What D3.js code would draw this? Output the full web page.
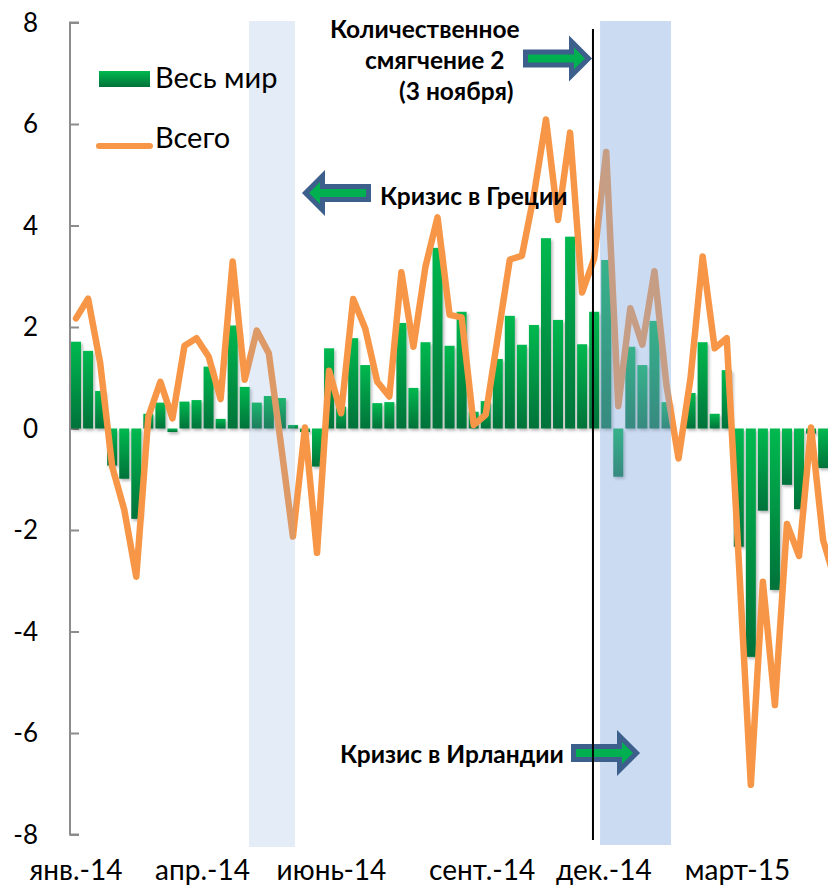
<html>

<head>
    <style>
        body {
            margin: 0;
            background-color: white;
        }

        text {
            font-family: 'Lato', sans-serif;
            fill: black;
        }

        .note {
            font-weight: bold;
            font-size: 24.5px;
        }
    </style>
</head>

<body>
    <svg width="828" height="887"></svg>

    <script src="https://d3js.org/d3.v7.min.js"></script>

    <script>
        // weekly flows, %
        var worldFlows = [1.71, 1.53, 0.74, -0.73, -0.99, -1.78, 0.29, 0.51, -0.07, 0.53,
            0.56, 1.22, 0.19, 2.03, 0.82, 0.51, 0.64, 0.60, 0.07, -0.07,
            -0.75, 1.58, 0.43, 1.78, 1.25, 0.50, 0.52, 2.08, 0.80, 1.70,
            3.56, 1.63, 2.30, 0.33, 0.54, 1.37, 2.22, 1.65, 2.04, 3.75,
            2.14, 3.78, 1.66, 2.30, 3.32, -0.95, 1.61, 1.25, 2.12, 0.52,
            0.00, 0.70, 1.70, 0.29, 1.15, -2.33, -4.50, -1.62, -3.18, -1.11,
            -1.59, -0.10, -0.78]; // Весь мир
        var totalFlows = [2.17, 2.56, 1.30, -0.75, -1.60, -2.92, 0.23, 0.92, 0.20, 1.63,
            1.78, 1.42, 0.58, 3.29, 0.96, 1.93, 1.48, -0.30, -2.13, 0.02,
            -2.45, 1.14, 0.30, 2.55, 1.97, 0.92, 0.63, 3.08, 1.61, 3.19,
            4.16, 2.24, 2.19, 0.07, 0.27, 1.80, 3.33, 3.40, 4.60, 6.09,
            4.11, 5.83, 2.68, 3.35, 5.45, 0.44, 2.37, 1.65, 3.10, 0.85,
            -0.59, 1.00, 3.39, 1.58, 1.78, -2.60, -7.02, -3.02, -5.45, -1.88,
            -2.51, 0.02, -2.20, -3.00]; // Всего
        var seriesNames = ['Весь мир', 'Всего'];
        var yTicks = [-8, -6, -4, -2, 0, 2, 4, 6, 8];
        var monthLabels = ['янв.-14', 'апр.-14', 'июнь-14', 'сент.-14', 'дек.-14', 'март-15'];
        var monthWeeks = [0, 10.5, 21.2, 33.7, 43.8, 54.9]; // where each label sits, in weeks
        var greeceWeeks = [14.36, 18.17];
        var irelandWeeks = [43.49, 49.38];
        var qe2Week = 42.9;

        var nWeeks = 64;
        var step = 12.05;
        var plotLeft = 70;
        var plotTop = 22.5;
        var plotBottom = 834.5;

        var svg = d3.select('svg');
        var defs = svg.append('defs');

        var grad = defs.append('linearGradient')
            .attr('id', 'barGrad')
            .attr('x1', 0).attr('y1', 0)
            .attr('x2', 0).attr('y2', 1);
        grad.append('stop').attr('offset', '0%').attr('stop-color', '#00b94f');
        grad.append('stop').attr('offset', '100%').attr('stop-color', '#00723a');

        var shadow = defs.append('filter')
            .attr('id', 'shadow')
            .attr('x', '-30%').attr('y', '-30%')
            .attr('width', '160%').attr('height', '160%');
        shadow.append('feDropShadow')
            .attr('dx', 1.5).attr('dy', 2)
            .attr('stdDeviation', 1.5)
            .attr('flood-color', '#000')
            .attr('flood-opacity', 0.3);

        var x = d3.scaleLinear()
            .domain([-0.5, nWeeks - 0.5])
            .range([plotLeft, plotLeft + nWeeks * step]);
        var y = d3.scaleLinear()
            .domain([-8, 8])
            .range([plotBottom, plotTop]);
        var barW = step * 0.83;

        // y axis
        var yAxis = d3.axisRight(y)
            .tickValues(yTicks)
            .tickSize(9)
            .tickFormat('');
        var gy = svg.append('g')
            .attr('transform', 'translate(' + plotLeft + ',0)')
            .call(yAxis);
        gy.selectAll('path, line')
            .attr('stroke', '#8c8c8c')
            .attr('stroke-width', 2);
        gy.select('.domain').attr('d', 'M9,' + plotTop + 'H0V' + plotBottom + 'H9');

        svg.append('g')
            .selectAll('text')
            .data(yTicks)
            .enter()
            .append('text')
            .attr('x', 38)
            .attr('y', function (d) { return y(d) })
            .attr('dy', '0.36em')
            .attr('text-anchor', 'end')
            .style('font-size', '26px')
            .text(function (d) { return d });

        // bars
        svg.append('g')
            .attr('filter', 'url(#shadow)')
            .selectAll('rect')
            .data(worldFlows)
            .enter()
            .append('rect')
            .attr('x', function (d, i) { return x(i) - barW / 2 })
            .attr('y', function (d) { return y(Math.max(0, d)) })
            .attr('width', barW)
            .attr('height', function (d) { return Math.abs(y(d) - y(0)) })
            .attr('fill', 'url(#barGrad)');

        // zero line
        svg.append('line')
            .attr('x1', plotLeft).attr('x2', x(nWeeks - 0.5))
            .attr('y1', y(0)).attr('y2', y(0))
            .attr('stroke', '#868686')
            .attr('stroke-width', 2)
            .attr('filter', 'url(#shadow)');

        // total line
        var line = d3.line()
            .x(function (d, i) { return x(i) })
            .y(function (d) { return y(d) });
        svg.append('path')
            .datum(totalFlows)
            .attr('d', line)
            .attr('fill', 'none')
            .attr('stroke', '#f79646')
            .attr('stroke-width', 6.5)
            .attr('stroke-linejoin', 'round')
            .attr('stroke-linecap', 'round');

        // shaded periods
        svg.append('rect')
            .attr('x', x(greeceWeeks[0]))
            .attr('width', x(greeceWeeks[1]) - x(greeceWeeks[0]))
            .attr('y', 21).attr('height', 826)
            .attr('fill', '#82aae1')
            .attr('opacity', 0.22);
        svg.append('rect')
            .attr('x', x(irelandWeeks[0]))
            .attr('width', x(irelandWeeks[1]) - x(irelandWeeks[0]))
            .attr('y', 21).attr('height', 824)
            .attr('fill', '#82aae1')
            .attr('opacity', 0.42);

        // x labels
        svg.append('g')
            .selectAll('text')
            .data(monthLabels)
            .enter()
            .append('text')
            .attr('x', function (d, i) { return x(monthWeeks[i]) })
            .attr('y', 880)
            .attr('text-anchor', 'middle')
            .style('font-size', '28px')
            .text(function (d) { return d });

        // legend
        svg.append('rect')
            .attr('x', 99).attr('y', 71)
            .attr('width', 51).attr('height', 16)
            .attr('fill', 'url(#barGrad)');
        svg.append('line')
            .attr('x1', 99).attr('x2', 150)
            .attr('y1', 146).attr('y2', 146)
            .attr('stroke', '#f79646')
            .attr('stroke-width', 6)
            .attr('stroke-linecap', 'round');
        svg.append('g')
            .selectAll('text')
            .data(seriesNames)
            .enter()
            .append('text')
            .attr('x', 155)
            .attr('y', function (d, i) { return i == 0 ? 88 : 148 })
            .style('font-size', '29px')
            .text(function (d) { return d });

        // arrows
        function arrow(tipX, tipY, dir) {
            var len = 63, head = 17, half = 17, shaft = 6.5;
            var pts = [[-len, -shaft], [-head, -shaft], [-head, -half], [0, 0],
            [-head, half], [-head, shaft], [-len, shaft]];
            svg.append('path')
                .attr('d', 'M' + pts.map(function (p) {
                    return (tipX + dir * p[0]) + ',' + (tipY + p[1]);
                }).join('L') + 'Z')
                .attr('fill', '#00b050')
                .attr('stroke', '#3c5f8c')
                .attr('stroke-width', 5);
        }
        arrow(588.5, 58.5, 1);
        arrow(305.5, 193, -1);
        arrow(636.5, 753, 1);

        // QE2 marker
        svg.append('line')
            .attr('x1', x(qe2Week)).attr('x2', x(qe2Week))
            .attr('y1', 29).attr('y2', 840)
            .attr('stroke', 'black')
            .attr('stroke-width', 2);

        // notes
        var notes = [
            ['Количественное', 330, 38],
            ['смягчение 2', 365, 69],
            ['(3 ноября)', 399, 100],
            ['Кризис в Греции', 380, 205],
            ['Кризис в Ирландии', 340, 763]
        ];
        svg.append('g')
            .selectAll('text')
            .data(notes)
            .enter()
            .append('text')
            .attr('class', 'note')
            .attr('x', function (d) { return d[1] })
            .attr('y', function (d) { return d[2] })
            .text(function (d) { return d[0] });
    </script>
</body>

</html>
